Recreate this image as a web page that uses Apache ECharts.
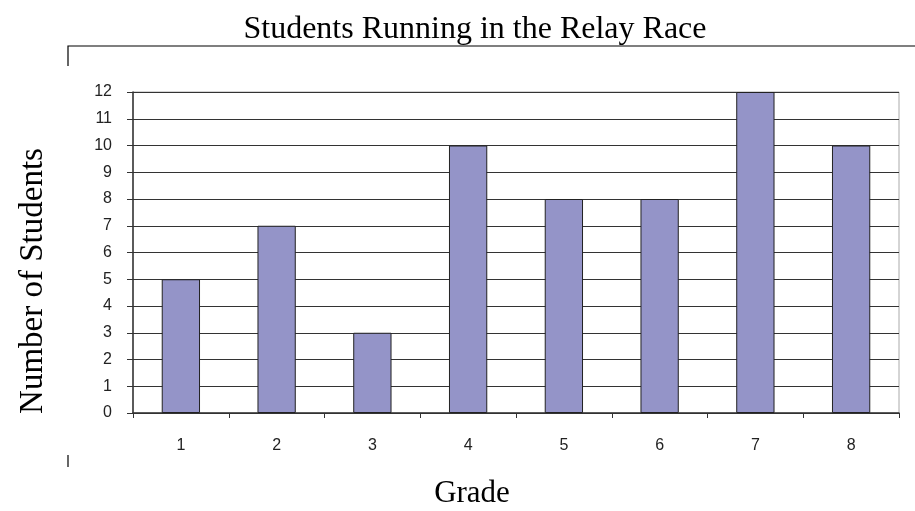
<!DOCTYPE html>
<html>
<head>
<meta charset="utf-8">
<script src="https://cdn.jsdelivr.net/npm/echarts@6/dist/echarts.min.js"></script>
<style>
  html, body { margin: 0; padding: 0; background: #fff; }
  #chart { width: 915px; height: 511px; }
</style>
</head>
<body>
<div id="chart"></div>
<script>
const grades = ["1", "2", "3", "4", "5", "6", "7", "8"];
const students = [5, 7, 3, 10, 8, 8, 12, 10];

const chart = echarts.init(document.getElementById("chart"), null, { renderer: "canvas" });

const serif = "'Liberation Serif', 'DejaVu Serif', serif";
const sans = "'Liberation Sans', Arial, sans-serif";

chart.setOption({
  animation: false,
  title: {
    text: "Students Running in the Relay Race",
    left: 470,
    textAlign: "center",
    top: 9,
    textStyle: { fontFamily: serif, fontWeight: "normal", fontSize: 32, color: "#000" }
  },
  grid: { left: 133, right: 16, top: 92, bottom: 98, show: true, borderColor: "#aaa", borderWidth: 1 },
  xAxis: {
    type: "category",
    data: grades,
    axisLine: { lineStyle: { color: "#333", width: 1.5 } },
    axisTick: { show: true, length: 5, lineStyle: { color: "#333" } },
    axisLabel: { margin: 25, fontFamily: sans, fontSize: 16, color: "#222" }
  },
  yAxis: {
    type: "value",
    min: 0, max: 12, interval: 1,
    axisLine: { show: true, lineStyle: { color: "#333", width: 1.5 } },
    axisTick: { show: true, length: 6, lineStyle: { color: "#333" } },
    axisLabel: { margin: 21, fontFamily: sans, fontSize: 16, color: "#222" },
    splitLine: { lineStyle: { color: "#333", width: 1.2 } }
  },
  series: [{
    type: "bar",
    data: students,
    barWidth: "40%",
    itemStyle: { color: "#9494c8", borderColor: "#222", borderWidth: 1 }
  }],
  graphic: [
    { type: "polyline", shape: { points: [[68, 66], [68, 46], [915, 46]] },
      style: { stroke: "#000", lineWidth: 1.2, fill: null } },
    { type: "line", shape: { x1: 68, y1: 455, x2: 68, y2: 467 },
      style: { stroke: "#000", lineWidth: 1.2 } },
    { type: "text", x: 33, y: 281, rotation: Math.PI / 2,
      style: { text: "Number of Students", font: "33px " + serif, fill: "#000",
               align: "center", verticalAlign: "middle" } },
    { type: "text", x: 472, y: 494,
      style: { text: "Grade", font: "31px " + serif, fill: "#000",
               align: "center", verticalAlign: "middle" } }
  ]
});
</script>
</body>
</html>
